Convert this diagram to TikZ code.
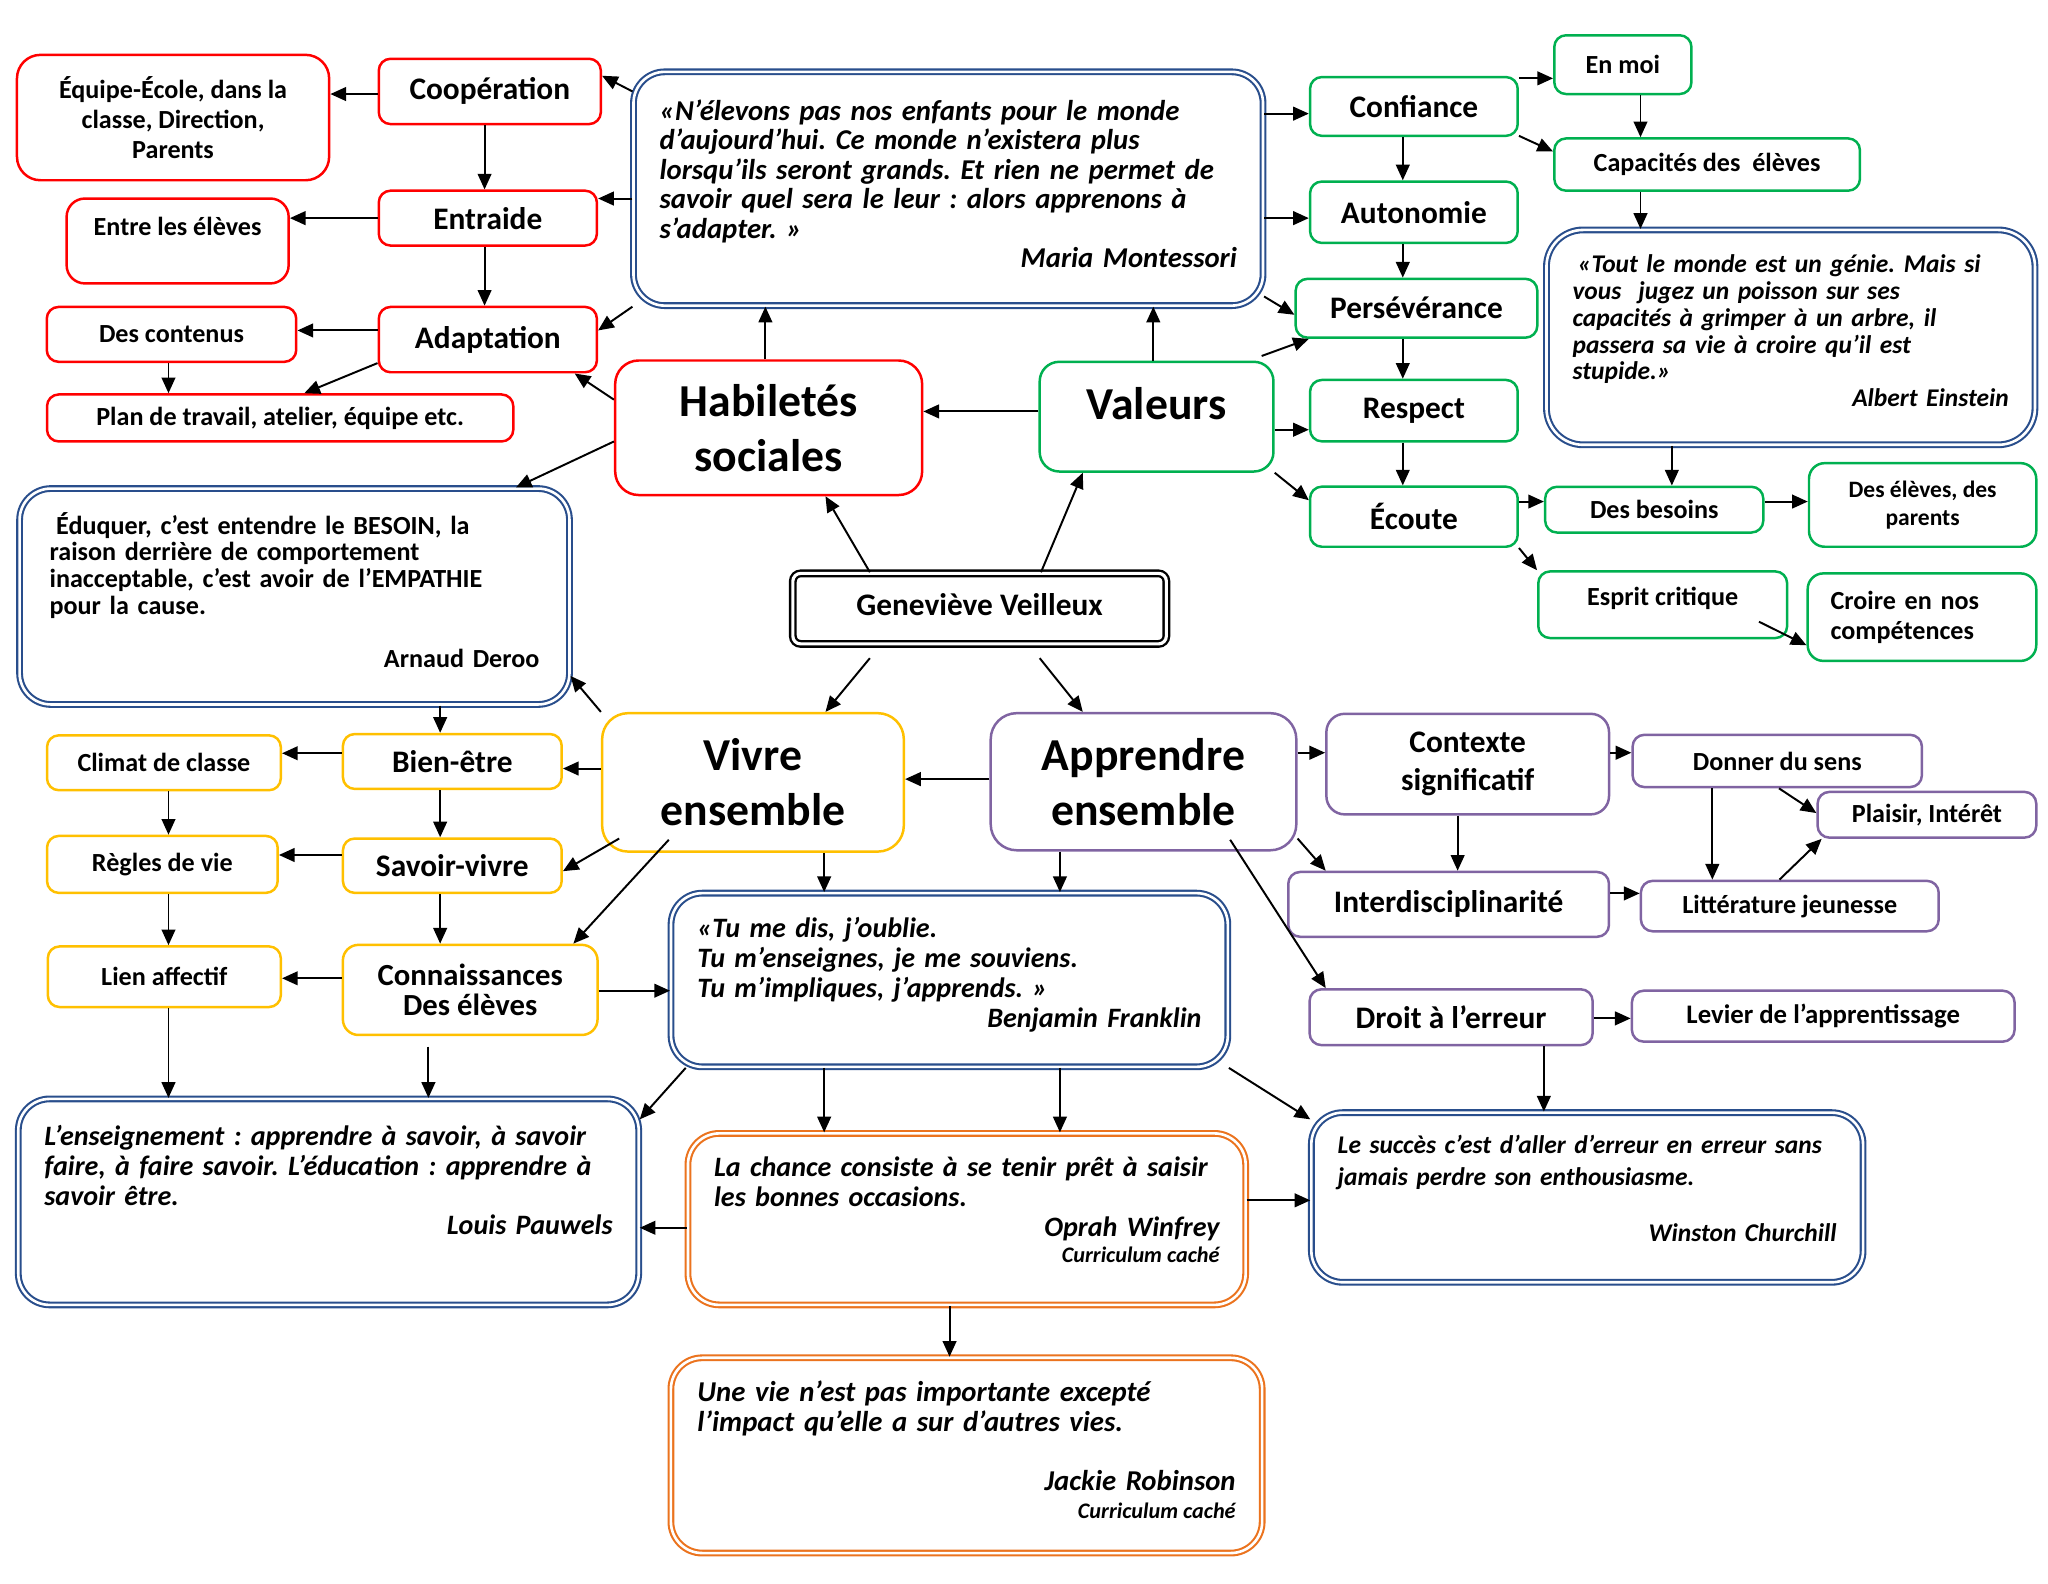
\documentclass[tikz,border=0pt]{standalone}
\usepackage{fontspec}
\setmainfont{Carlito}
\usetikzlibrary{arrows.meta}
\definecolor{habred}{RGB}{255,0,0}
\definecolor{valgreen}{RGB}{0,176,80}
\definecolor{vivyellow}{RGB}{255,192,0}
\definecolor{apppurple}{RGB}{128,100,162}
\definecolor{quoteblue}{RGB}{41,78,140}
\definecolor{quoteorange}{RGB}{235,115,30}
\newcommand{\lowstrut}[1]{\rule[-#1pt]{0pt}{#1pt}}
\newcommand{\hidden}{\fontsize{17}{17}\selectfont\spaceskip=0pt\relax}
\setlength{\lineskiplimit}{-100pt}
\frenchspacing
\tikzset{
  box/.style={draw, rounded corners=9pt, line width=1.9pt, align=center, inner sep=2pt, font=\fontsize{20}{23}\selectfont\bfseries},
  wh/.style 2 args={minimum width=#1pt, minimum height=#2pt},
  mid/.style={font=\fontsize{24}{26}\selectfont\bfseries},
  big/.style={font=\fontsize{35}{42}\selectfont\bfseries, rounded corners=18pt},
  hab/.style={box, draw=habred},
  val/.style={box, draw=valgreen},
  viv/.style={box, draw=vivyellow},
  app/.style={box, draw=apppurple},
  quotebox/.style={draw=quoteblue, double=white, double distance=2pt, line width=1.6pt, rounded corners=24pt, align=left, inner sep=0pt, font=\fontsize{22}{22.6}\selectfont\bfseries\itshape},
  oquotebox/.style={quotebox, draw=quoteorange},
  arr/.style={-{Triangle[length=12pt,width=10.5pt]}, line width=1.5pt}
}
\begin{document}
\begin{tikzpicture}[x=1pt, y=-1pt]
\useasboundingbox (0,0) rectangle (1568,1212);
\fill[white] (0,0) rectangle (1568,1212);

\node[hab, wh={239}{96}, rounded corners=18pt] (equipe) at (132.5,90) {Équipe-École, dans la\\classe, Direction,\\Parents};
\node[hab, mid, wh={170}{50}] (coop) at (375,70) {Coopération};
\node[hab, mid, wh={167}{42}] (entraide) at (373.5,167) {Entraide};
\node[hab, wh={170}{65}, rounded corners=14pt] (entre) at (136,184.5) {Entre les élèves\lowstrut{22}};
\node[hab, mid, wh={167}{50}] (adaptation) at (373.5,260) {Adaptation};
\node[hab, wh={191}{42}] (contenus) at (131.3,256) {Des contenus};
\node[hab, wh={357}{36}] (plan) at (214.5,320) {Plan de travail, atelier, équipe etc.};
\node[hab, big, wh={235}{103}] (habiletes) at (588.5,327.5) {Habiletés\\sociales};

\node[quotebox, wh={482}{179}, text width=442pt] (montessori) at (726,144.5)
  {«N’élevons pas nos enfants pour le monde\\
   d’aujourd’hui. Ce monde n’existera plus\\
   lorsqu’ils seront grands. Et rien ne permet de\\
   savoir quel sera le leur : alors apprenons à\\
   s’adapter. »\\
   \mbox{}\hfill Maria Montessori\lowstrut{8}};

\node[val, big, wh={179}{84}, rounded corners=15pt] (valeurs) at (885.5,319) {Valeurs\lowstrut{20}};
\node[val, mid, wh={159}{45}] (confiance) at (1082.5,81.5) {Confiance};
\node[val, wh={105}{45}] (enmoi) at (1242.5,49.5) {En moi};
\node[val, wh={234}{40}] (capacites) at (1307,126) {Capacités des~ élèves};
\node[val, mid, wh={159}{47}] (autonomie) at (1082.5,162.5) {Autonomie};
\node[val, mid, wh={185}{45}] (perseverance) at (1084.5,236) {Persévérance};
\node[val, mid, wh={159}{47}] (respect) at (1082.5,314.4) {Respect};
\node[val, mid, wh={159}{46}] (ecoute) at (1082.5,395.6) {Écoute};
\node[val, wh={167}{35}] (besoins) at (1266.5,390.2) {Des besoins};
\node[val, wh={174}{64}, rounded corners=12pt, font=\fontsize{18}{21.5}\selectfont\bfseries] (parents) at (1472,386.6) {Des élèves, des\\parents};
\node[val, wh={190.5}{51}] (esprit) at (1273,463) {Esprit critique\lowstrut{13}};
\node[val, wh={175}{67}, rounded corners=12pt, text width=140pt, align=left] (croire) at (1471.5,472.5) {Croire en nos\\compétences};

\node[quotebox, wh={374}{164.5}, text width=334pt, rounded corners=28pt, font=\fontsize{19.5}{20.5}\selectfont\bfseries\itshape] (einstein) at (1371,258.3)
  {\hspace*{4pt}«Tout le monde est un génie. Mais si\\
   vous~ jugez un poisson sur ses\\
   capacités à grimper à un arbre, il\\
   passera sa vie à croire qu’il est\\
   stupide.»\\
   \mbox{}\hfill Albert Einstein\lowstrut{10}};

\node[draw=black, double=white, double distance=2.4pt, line width=1.8pt, rounded corners=6pt, mid, wh={286}{54}] (genevieve) at (750,466) {Geneviève Veilleux\lowstrut{6}};

\node[viv, big, wh={231}{106}, rounded corners=20pt] (vivre) at (576.5,599) {Vivre\\ensemble};
\node[viv, mid, wh={167.5}{42}] (bienetre) at (346.3,583) {Bien-être};
\node[viv, wh={179}{42}] (climat) at (125.5,584) {Climat de classe};
\node[viv, mid, wh={167.5}{41.6}] (savoirvivre) at (346.3,662.8) {Savoir-vivre};
\node[viv, wh={176.6}{43.6}] (regles) at (124.3,661.8) {Règles de vie};
\node[viv, wh={195}{69}, rounded corners=12pt, font=\fontsize{23.5}{23.5}\selectfont\bfseries] (connaissances) at (360,757.9) {Connaissances\\Des élèves};
\node[viv, wh={178.4}{46.4}] (lien) at (125.8,747.8) {Lien affectif};

\node[quotebox, wh={421}{165.3}, text width=375pt, font=\fontsize{20}{20.5}\selectfont\bfseries] (arnaud) at (225.5,456.7)
  {\hspace*{5pt}Éduquer, c’est entendre le BESOIN, la\\
   raison derrière de comportement\\
   inacceptable, c’est avoir de l’EMPATHIE\\
   pour la cause.\\[20.5pt]
   \mbox{}\hfill Arnaud Deroo\lowstrut{10}};

\node[quotebox, wh={426.3}{133}, text width=386pt, font=\fontsize{21.5}{23}\selectfont\bfseries\itshape] (franklin) at (726.9,750.3)
  {«Tu me dis, j’oublie.\\
   Tu m’enseignes, je me souviens.\\
   Tu m’impliques, j’apprends. »\\
   \mbox{}\hfill Benjamin Franklin\lowstrut{11}};

\node[quotebox, wh={475}{157.7}, text width=435pt, font=\fontsize{21.5}{22.7}\selectfont\bfseries\itshape] (pauwels) at (251.5,920.2)
  {L’enseignement : apprendre à savoir, à savoir\\
   faire, à faire savoir. L’éducation : apprendre à\\
   savoir être.\\
   \mbox{}\hfill Louis Pauwels\lowstrut{33}};

\node[oquotebox, wh={427}{131.3}, text width=387pt, font=\fontsize{21.5}{23}\selectfont\bfseries\itshape] (oprah) at (740.2,933.4)
  {La chance consiste à se tenir prêt à saisir\\
   les bonnes occasions.\\
   \mbox{}\hfill Oprah Winfrey\\[-3pt]
   \mbox{}\hfill{\hidden Curriculum caché}\lowstrut{15}};

\node[oquotebox, wh={452.7}{149.5}, text width=412pt, font=\fontsize{22}{23}\selectfont\bfseries\itshape] (robinson) at (740,1114.3)
  {Une vie n’est pas importante excepté\\
   l’impact qu’elle a sur d’autres vies.\\[22.6pt]
   \mbox{}\hfill Jackie Robinson\\[-2pt]
   \mbox{}\hfill{\hidden Curriculum caché}\lowstrut{9}};

\node[quotebox, wh={422.4}{129.9}, text width=382pt, font=\fontsize{19.5}{24}\selectfont\bfseries\itshape] (churchill) at (1215.2,916.8)
  {Le succès c’est d’aller d’erreur en erreur sans\\
   jamais perdre son enthousiasme.\\[19pt]
   \mbox{}\hfill Winston Churchill\lowstrut{14}};

\node[app, big, wh={234}{105}, rounded corners=20pt] (apprendre) at (875.5,598.5) {Apprendre\\ensemble};
\node[app, wh={216.4}{77}, rounded corners=14pt, font=\fontsize{24}{29}\selectfont\bfseries] (contexte) at (1123.7,585) {Contexte\\significatif};
\node[app, wh={221.5}{40}] (donner) at (1360.7,582.6) {Donner du sens};
\node[app, wh={167.4}{35}] (plaisir) at (1475.3,623.8) {Plaisir, Intérêt};
\node[app, wh={228}{38.6}] (litterature) at (1370.3,693.7) {Littérature jeunesse};
\node[app, mid, wh={245.5}{49.6}] (inter) at (1109.1,692.4) {Interdisciplinarité};
\node[app, mid, wh={216.7}{42.7}] (droit) at (1111,778.8) {Droit à l’erreur};
\node[app, font=\fontsize{20.5}{23}\selectfont\bfseries, wh={293}{39}] (levier) at (1395.9,778) {Levier de l’apprentissage};

\draw[arr] (coop.west |- 0,72) -- (equipe.east |- 0,72);
\draw[arr] (coop.south -| 371,0) -- (entraide.north -| 371,0);
\draw[arr] (entraide.west |- 0,167) -- (entre.east |- 0,167);
\draw[arr] (entraide.south -| 371,0) -- (adaptation.north -| 371,0);
\draw[arr] (adaptation.west |- 0,253) -- (contenus.east |- 0,253);
\draw[arr] (adaptation.west |- 0,278) -- (plan.north -| 233,0);
\draw[arr] (contenus.south -| 129,0) -- (plan.north -| 129,0);
\draw[arr] (montessori.west |- 0,70) -- (coop.east |- 0,58);
\draw[arr] (montessori.west |- 0,152) -- (entraide.east |- 0,152);
\draw[arr] (montessori.south west) -- (adaptation.east |- 0,253);
\draw[arr] (habiletes.west |- 0,306) -- (adaptation.south -| 440,0);
\draw[arr] (habiletes.west |- 0,338) -- (arnaud.north -| 395,0);
\draw[arr] (habiletes.north -| 586,0) -- (montessori.south -| 586,0);
\draw[arr] (valeurs.west |- 0,315) -- (habiletes.east |- 0,315);
\draw[arr] (valeurs.north -| 883,0) -- (montessori.south -| 883,0);
\draw[arr] (genevieve.north -| 666,0) -- (habiletes.south -| 632,0);
\draw[arr] (genevieve.north -| 797,0) -- (valeurs.south -| 829,0);

\draw[arr] (montessori.east |- 0,87) -- (confiance.west |- 0,87);
\draw[arr] (montessori.east |- 0,167) -- (autonomie.west |- 0,167);
\draw[arr] (montessori.east |- 0,227) -- (perseverance.west |- 0,241);
\draw[arr] ([xshift=-10pt,yshift=3.5pt]valeurs.north east) -- (perseverance.south -| 1002,0);
\draw[arr] (valeurs.east |- 0,329) -- (respect.west |- 0,329);
\draw[arr] (valeurs.south east) -- (ecoute.west |- 0,383);
\draw[arr] (confiance.east |- 0,60) -- (enmoi.west |- 0,60);
\draw[arr] (confiance.east |- 0,104) -- (capacites.west |- 0,116);
\draw[arr] (enmoi.south -| 1256,0) -- (capacites.north -| 1256,0);
\draw[arr] (capacites.south -| 1256,0) -- (einstein.north -| 1256,0);
\draw[arr] (confiance.south -| 1074,0) -- (autonomie.north -| 1074,0);
\draw[arr] (autonomie.south -| 1074,0) -- (perseverance.north -| 1074,0);
\draw[arr] (perseverance.south -| 1074,0) -- (respect.north -| 1074,0);
\draw[arr] (respect.south -| 1074,0) -- (ecoute.north -| 1074,0);
\draw[arr] (ecoute.east |- 0,384) -- (besoins.west |- 0,384);
\draw[arr] (besoins.east |- 0,384) -- (parents.west |- 0,384);
\draw[arr] (einstein.south -| 1280,0) -- (besoins.north -| 1280,0);
\draw[arr] (ecoute.south east) -- (esprit.north west);
\draw[arr] ([xshift=-22.5pt,yshift=-13pt]esprit.east) -- (croire.west |- 0,494);

\draw[arr] ([yshift=-10pt]genevieve.south -| 666,0) -- (vivre.north -| 632,0);
\draw[arr] ([yshift=-10pt]genevieve.south -| 796,0) -- (apprendre.north -| 829,0);
\draw[arr] (apprendre.west |- 0,596.5) -- (vivre.east |- 0,596.5);
\draw[arr] (vivre.north west) -- (arnaud.east |- 0,517.5);
\draw[arr] (vivre.west |- 0,588.4) -- (bienetre.east |- 0,588.4);
\draw[arr] ([xshift=14pt,yshift=-43pt]vivre.west) -- (savoirvivre.east |- 0,667);
\draw[arr] ([xshift=52pt,yshift=10pt]vivre.south west) -- (connaissances.north -| 439,0);
\draw[arr] (vivre.south -| 631,0) -- (franklin.north -| 631,0);
\draw[arr] (apprendre.south -| 811.5,0) -- (franklin.north -| 811.5,0);
\draw[arr] (arnaud.south -| 337,0) -- (bienetre.north -| 337,0);
\draw[arr] (bienetre.west |- 0,576.7) -- (climat.east |- 0,576.7);
\draw[arr] (bienetre.south -| 337,0) -- (savoirvivre.north -| 337,0);
\draw[arr] (savoirvivre.west |- 0,654.6) -- (regles.east |- 0,654.6);
\draw[arr] (climat.south -| 129,0) -- (regles.north -| 129,0);
\draw[arr] (savoirvivre.south -| 337,0) -- (connaissances.north -| 337,0);
\draw[arr] (regles.south -| 129,0) -- (lien.north -| 129,0);
\draw[arr] (connaissances.west |- 0,749) -- (lien.east |- 0,749);
\draw[arr] (connaissances.east |- 0,758.5) -- (franklin.west |- 0,758.5);
\draw[arr] (lien.south -| 129,0) -- (pauwels.north -| 129,0);
\draw[arr] ([yshift=-8pt]connaissances.south -| 328,0) -- (pauwels.north -| 328,0);

\draw[arr] (franklin.south -| 525,0) -- (pauwels.east |- 0,857);
\draw[arr] (franklin.south -| 631,0) -- (oprah.north -| 631,0);
\draw[arr] (franklin.south -| 811.5,0) -- (oprah.north -| 811.5,0);
\draw[arr] (franklin.south east) -- (churchill.west |- 0,857);
\draw[arr] (oprah.west |- 0,940) -- (pauwels.east |- 0,940);
\draw[arr] (oprah.east |- 0,919) -- (churchill.west |- 0,919);
\draw[arr] (oprah.south -| 727,0) -- (robinson.north -| 727,0);

\draw[arr] (apprendre.east |- 0,576.3) -- (contexte.west |- 0,576.3);
\draw[arr] (contexte.east |- 0,576.3) -- (donner.west |- 0,576.3);
\draw[arr] (donner.south -| 1362,0) -- (plaisir.west |- 0,622.5);
\draw[arr] (donner.south -| 1311,0) -- (litterature.north -| 1311,0);
\draw[arr] (litterature.north -| 1362.4,0) -- (plaisir.south -| 1394.7,0);
\draw[arr] (contexte.south -| 1116,0) -- (inter.north -| 1116,0);
\draw[arr] (apprendre.east |- 0,642) -- (inter.north -| 1015,0);
\draw[arr] (inter.east |- 0,684) -- (litterature.west |- 0,684);
\draw[arr] ([xshift=-51.6pt,yshift=9pt]apprendre.south east) -- (droit.north -| 1015,0);
\draw[arr] (droit.east |- 0,779.7) -- (levier.west |- 0,779.7);
\draw[arr] (droit.south -| 1182,0) -- (churchill.north -| 1182,0);
\end{tikzpicture}
\end{document}
